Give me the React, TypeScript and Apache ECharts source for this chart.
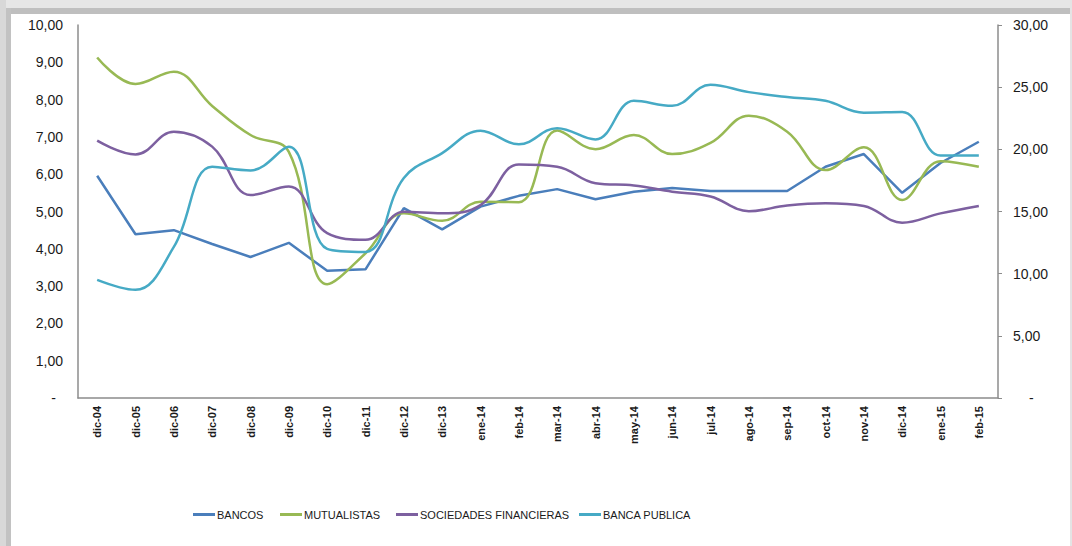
import React, { useEffect, useRef } from "react";
import * as echarts from "echarts";

const categories = [
  "dic-04", "dic-05", "dic-06", "dic-07", "dic-08", "dic-09", "dic-10", "dic-11",
  "dic-12", "dic-13", "ene-14", "feb-14", "mar-14", "abr-14", "may-14", "jun-14",
  "jul-14", "ago-14", "sep-14", "oct-14", "nov-14", "dic-14", "ene-15", "feb-15",
];

const bancos = [5.96, 4.39, 4.5, 4.13, 3.78, 4.16, 3.41, 3.45, 5.09, 4.52, 5.13, 5.42, 5.6, 5.33, 5.53, 5.63, 5.55, 5.55, 5.55, 6.2, 6.54, 5.5, 6.3, 6.87];
const mutualistas = [9.13, 8.42, 8.75, 7.83, 7.05, 6.6, 3.05, 3.88, 4.95, 4.75, 5.26, 5.25, 7.17, 6.67, 7.05, 6.54, 6.84, 7.57, 7.14, 6.11, 6.72, 5.31, 6.35, 6.2];
const sociedades = [6.9, 6.53, 7.14, 6.74, 5.44, 5.67, 4.42, 4.24, 4.99, 4.95, 5.17, 6.26, 6.2, 5.76, 5.7, 5.53, 5.4, 5.01, 5.16, 5.22, 5.15, 4.7, 4.95, 5.15];
// right axis
const bancaPublica = [9.5, 8.7, 12.15, 18.6, 18.3, 20.2, 12.0, 11.75, 17.7, 19.7, 21.5, 20.4, 21.7, 20.8, 23.9, 23.5, 25.2, 24.6, 24.2, 23.9, 22.95, 23.0, 19.5, 19.5];

const seriesNames = ["BANCOS", "MUTUALISTAS", "SOCIEDADES FINANCIERAS", "BANCA PUBLICA"];
const colors = ["#4a7ebb", "#98b954", "#7d60a0", "#46aac5"];
const legendLeft = [193, 280, 396, 579];

const FONT = "'Liberation Sans', Arial, sans-serif";

const fmt = (v: number) => v.toFixed(2).replace(".", ",");

export default function App() {
  const ref = useRef<HTMLDivElement>(null);
  useEffect(() => {
    if (!ref.current) return;
    const chart = echarts.init(ref.current, null, { renderer: "svg" });
    const axisLineColor = "#8c8c8c";
    chart.setOption({
      animation: false,
      backgroundColor: "#ffffff",
      color: colors,
      graphic: [
        { type: "rect", silent: true, shape: { x: 0, y: 0, width: 1072, height: 8 }, style: { fill: "#e6e6e6" } },
        { type: "rect", silent: true, shape: { x: 0, y: 8, width: 1072, height: 6 }, style: { fill: "#bfbfbf" } },
        { type: "rect", silent: true, shape: { x: 0, y: 0, width: 6, height: 546 }, style: { fill: "#d8d8d8" } },
        { type: "rect", silent: true, shape: { x: 6, y: 8, width: 5, height: 538 }, style: { fill: "#c2c2c2" } },
        { type: "rect", silent: true, shape: { x: 1070, y: 0, width: 2, height: 546 }, style: { fill: "#e4e4e4" } },
      ],
      grid: { left: 78, right: 74, top: 25, bottom: 148, containLabel: false },
      legend: seriesNames.map((name, i) => ({
        left: legendLeft[i] - 5,
        top: 504,
        itemWidth: 22,
        itemHeight: 3,
        icon: "rect",
        data: [name],
        textStyle: { fontFamily: FONT, fontSize: 11, color: "#1a1a1a", padding: [0, 0, 0, -3] },
      })),
      xAxis: {
        type: "category",
        data: categories,
        boundaryGap: true,
        axisLine: { show: true, lineStyle: { color: axisLineColor, width: 1.5 } },
        axisTick: { show: false },
        axisLabel: {
          rotate: 90,
          margin: 8,
          interval: 0,
          fontFamily: FONT,
          fontSize: 11,
          fontWeight: "bold",
          color: "#1a1a1a",
        },
      },
      yAxis: [
        {
          type: "value",
          min: 0,
          max: 10,
          interval: 1,
          splitLine: { show: false },
          axisLine: { show: true, lineStyle: { color: axisLineColor, width: 1.5 } },
          axisTick: { show: false },
          axisLabel: {
            margin: 15,
            fontFamily: FONT,
            fontSize: 14,
            color: "#1a1a1a",
            formatter: (v: number) => (v === 0 ? "{d|-}" : fmt(v)),
            rich: { d: { padding: [0, 7, 0, 0], fontFamily: FONT, fontSize: 14, color: "#1a1a1a" } },
          },
        },
        {
          type: "value",
          min: 0,
          max: 30,
          interval: 5,
          position: "right",
          splitLine: { show: false },
          axisLine: { show: true, lineStyle: { color: axisLineColor, width: 1.5 } },
          axisTick: { show: true, inside: false, length: 4, lineStyle: { color: axisLineColor } },
          axisLabel: {
            margin: 15,
            fontFamily: FONT,
            fontSize: 14,
            color: "#1a1a1a",
            formatter: (v: number) => (v === 0 ? "{d|-}" : fmt(v)),
            rich: { d: { padding: [0, 0, 0, 16], fontFamily: FONT, fontSize: 14, color: "#1a1a1a" } },
          },
        },
      ],
      series: [
        { name: seriesNames[0], type: "line", data: bancos, yAxisIndex: 0, smooth: false, symbol: "none", lineStyle: { width: 2.5, color: colors[0] } },
        { name: seriesNames[1], type: "line", data: mutualistas, yAxisIndex: 0, smooth: 0.4, symbol: "none", lineStyle: { width: 2.5, color: colors[1] } },
        { name: seriesNames[2], type: "line", data: sociedades, yAxisIndex: 0, smooth: 0.4, symbol: "none", lineStyle: { width: 2.5, color: colors[2] } },
        { name: seriesNames[3], type: "line", data: bancaPublica, yAxisIndex: 1, smooth: 0.4, symbol: "none", lineStyle: { width: 2.5, color: colors[3] } },
      ],
    });
    return () => chart.dispose();
  }, []);
  return (
    <div
      ref={ref}
      style={{ position: "absolute", left: 0, top: 0, width: 1072, height: 546, background: "#fff" }}
    />
  );
}
